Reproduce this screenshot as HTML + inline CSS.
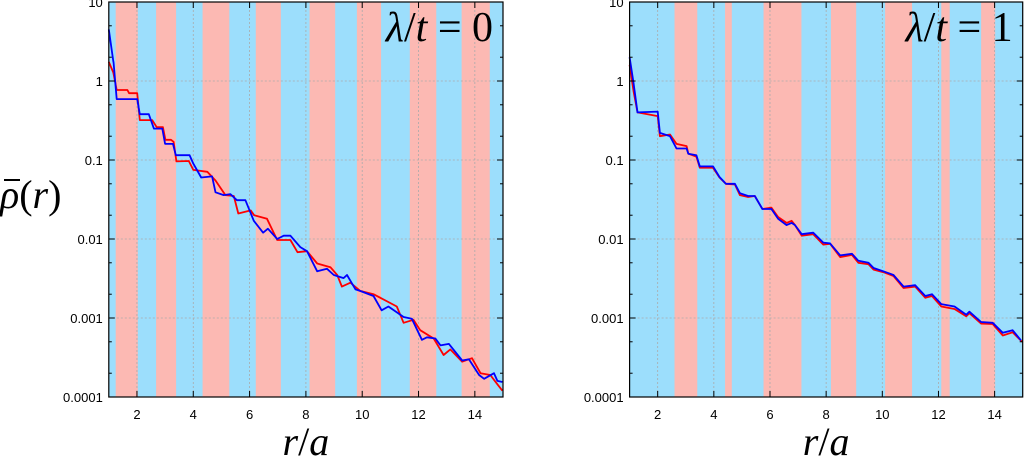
<!DOCTYPE html>
<html><head><meta charset="utf-8"><style>
html,body{margin:0;padding:0;background:#fff;width:1024px;height:465px;overflow:hidden}
svg{display:block}
text{font-family:"Liberation Sans",sans-serif}
.m{font-family:"Liberation Serif",serif}
.i{font-style:italic}
</style></head><body>
<svg id="chart" width="1024" height="465" viewBox="0 0 1024 465"></svg>
<script>
// ---- data ----
const xTicks = [2,4,6,8,10,12,14];
const yTicks = [10,1,0.1,0.01,0.001,0.0001];
const yTickLabels = ["10","1","0.1","0.01","0.001","0.0001"];
const leftBands = [[1,1.245,"b"],[1.245,2.03,"p"],[2.03,2.68,"b"],[2.68,3.39,"p"],[3.39,4.33,"b"],[4.33,5.28,"p"],[5.28,6.22,"b"],[6.22,7.11,"p"],[7.11,8.13,"b"],[8.13,9.04,"p"],[9.04,9.81,"b"],[9.81,10.67,"p"],[10.67,11.69,"b"],[11.69,12.63,"p"],[12.63,13.53,"b"],[13.53,14.53,"p"],[14.53,15,"b"]];
const rightBands = [[1,2.6,"b"],[2.6,3.41,"p"],[3.41,4.4,"b"],[4.4,4.64,"p"],[4.64,5.77,"b"],[5.77,7.12,"p"],[7.12,8.17,"b"],[8.17,9.07,"p"],[9.07,10.1,"b"],[10.1,11.06,"p"],[11.06,12.1,"b"],[12.1,12.4,"p"],[12.4,13.52,"b"],[13.52,14.02,"p"],[14.02,15,"b"]];
const leftBlueX = [1,1.16,1.17,1.28,2.01,2.1,2.42,2.48,2.6,2.9,3.0,3.28,3.38,3.87,4.0,4.28,4.67,4.79,5.08,5.32,5.55,5.85,6.15,6.48,6.65,6.98,7.21,7.45,7.8,8.04,8.4,8.75,8.99,9.34,9.46,9.76,9.92,10.4,10.69,10.93,11.47,11.76,12.12,12.3,12.6,12.78,13.08,13.55,13.79,14.15,14.33,14.68,14.8,14.98];
const leftBlueY = [4.5,1.78,1.7,0.59,0.59,0.38,0.38,0.33,0.25,0.25,0.16,0.16,0.115,0.115,0.09,0.06,0.062,0.039,0.036,0.037,0.031,0.031,0.017,0.012,0.0135,0.01,0.011,0.011,0.0079,0.007,0.0039,0.0042,0.0035,0.0032,0.0035,0.0023,0.0022,0.0019,0.00125,0.0014,0.00103,0.00098,0.00053,0.00057,0.00055,0.00045,0.00047,0.00029,0.0003,0.00019,0.00017,0.0002,0.00016,0.000155];
const leftRedX = [1,1.16,1.28,1.66,1.72,2.01,2.1,2.54,2.7,2.92,3.01,3.21,3.3,3.4,3.84,4.0,4.5,4.79,5.14,5.44,5.6,6.04,6.16,6.62,6.98,7.45,7.7,8.04,8.4,8.87,9.11,9.28,9.58,9.93,10.4,11.23,11.47,11.82,12.06,12.54,12.89,13.13,13.55,13.9,14.2,14.55,14.8,14.98];
const leftRedY = [1.75,1.28,0.77,0.77,0.7,0.7,0.32,0.32,0.26,0.26,0.18,0.18,0.17,0.096,0.097,0.075,0.071,0.055,0.036,0.035,0.021,0.023,0.02,0.018,0.0097,0.0097,0.0068,0.007,0.0049,0.0044,0.0035,0.0025,0.0028,0.0022,0.002,0.0014,0.00087,0.00095,0.0007,0.00055,0.00034,0.0004,0.00028,0.00031,0.0002,0.00019,0.000145,0.00012];
const rightBlueX = [1,1.14,1.28,2.0,2.08,2.44,2.67,3.03,3.09,3.38,3.5,3.97,4.2,4.43,4.75,4.93,5.22,5.46,5.73,6.05,6.29,6.59,6.77,6.89,7.13,7.54,7.9,8.14,8.5,8.92,9.15,9.51,9.69,10.04,10.4,10.76,11.17,11.53,11.77,12.1,12.57,12.99,13.1,13.52,13.93,14.29,14.64,14.94];
const rightBlueY = [2.0,0.95,0.4,0.41,0.22,0.2,0.14,0.14,0.12,0.115,0.083,0.083,0.061,0.05,0.05,0.038,0.035,0.035,0.024,0.024,0.018,0.015,0.016,0.015,0.0115,0.012,0.009,0.0088,0.0062,0.0065,0.0053,0.005,0.0043,0.0039,0.0035,0.0025,0.0026,0.0019,0.002,0.0015,0.0014,0.0011,0.0012,0.00089,0.00087,0.00065,0.0007,0.00052];
const rightRedX = [1,1.14,1.28,2.0,2.08,2.44,2.67,3.03,3.09,3.38,3.5,3.97,4.2,4.43,4.75,4.93,5.22,5.46,5.73,6.05,6.29,6.59,6.77,6.89,7.13,7.54,7.9,8.14,8.5,8.92,9.15,9.51,9.69,10.04,10.4,10.76,11.17,11.53,11.77,12.1,12.57,12.99,13.1,13.52,13.93,14.29,14.64,14.98];
const rightRedY = [1.6,0.75,0.4,0.36,0.2,0.21,0.16,0.15,0.12,0.11,0.08,0.08,0.06,0.05,0.049,0.036,0.034,0.035,0.024,0.025,0.019,0.016,0.017,0.015,0.011,0.0115,0.0085,0.0087,0.0059,0.0063,0.005,0.0048,0.0041,0.0038,0.0034,0.0024,0.0025,0.0018,0.0019,0.0014,0.0013,0.00105,0.00115,0.00085,0.00084,0.0006,0.00066,0.0005];

const NS="http://www.w3.org/2000/svg";
const svg=document.getElementById('chart');
function mk(tag,attrs,parent){const e=document.createElementNS(NS,tag);for(const k in attrs)e.setAttribute(k,attrs[k]);(parent||svg).appendChild(e);return e;}

function panel(x0,x1,y0,y1,bands,blueX,blueY,redX,redY,num,name){
  const g=mk('g',{});
  
  
  const sx=v=>x0+(v-1)/14*(x1-x0);
  const sy=v=>y1-(Math.log10(v)+4)/5*(y1-y0);
  bands.forEach((b,i)=>{
    const r=mk('rect',{x:sx(b[0]),y:y0,width:sx(b[1])-sx(b[0])+0.5,height:y1-y0,fill:b[2]==="b"?"#9cdefc":"#fcb9b3"},g);
    
    
  });
  yTicks.forEach(v=>{mk('line',{x1:x0,x2:x1,y1:sy(v),y2:sy(v),stroke:"#aaa","stroke-width":0.8,"stroke-dasharray":"2,2"},g);});
  xTicks.forEach(v=>{mk('line',{x1:sx(v),x2:sx(v),y1:y0,y2:y1,stroke:"#aaa","stroke-width":0.8,"stroke-dasharray":"2,2"},g);});
  const ser=(xs,ys,col,nm)=>{
    let d="";xs.forEach((x,i)=>{d+=(i?"L":"M")+sx(x).toFixed(1)+","+sy(ys[i]).toFixed(1);});
    const p=mk('path',{d:d,fill:"none",stroke:col,"stroke-width":1.8,"stroke-linejoin":"round"},g);
    
    
  };
  ser(redX,redY,"#f00",'red-series');
  ser(blueX,blueY,"#00f",'blue-series');
  mk('rect',{x:x0,y:y0,width:x1-x0,height:y1-y0,fill:"none",stroke:"#000","stroke-width":1.2},g);
  yTicks.forEach((v,i)=>{
    mk('line',{x1:x0,x2:x0+6,y1:sy(v),y2:sy(v),stroke:"#000"},g);
    mk('line',{x1:x1,x2:x1-6,y1:sy(v),y2:sy(v),stroke:"#000"},g);
    if(v<10){[2,5].forEach(m=>{const yy=sy(v*m);mk('line',{x1:x0,x2:x0+3,y1:yy,y2:yy,stroke:"#000"},g);mk('line',{x1:x1,x2:x1-3,y1:yy,y2:yy,stroke:"#000"},g);});}
    const t=mk('text',{x:x0-6,y:sy(v)+5,"text-anchor":"end","font-size":13},g);
    t.textContent=yTickLabels[i];
    
    
  });
  xTicks.forEach(v=>{
    mk('line',{x1:sx(v),x2:sx(v),y1:y1,y2:y1-6,stroke:"#000"},g);
    mk('line',{x1:sx(v),x2:sx(v),y1:y0,y2:y0+6,stroke:"#000"},g);
    const t=mk('text',{x:sx(v),y:y1+22,"text-anchor":"middle","font-size":13},g);
    t.textContent=String(v);
    
    
  });
  const tt=mk('text',{x:x1-10,y:y0+39,"text-anchor":"end","font-size":42,class:"m"},g);
  tt.innerHTML='<tspan class="i">λ</tspan>/<tspan class="i">t</tspan> = '+num;
  tt.setAttribute('xml:space','preserve');
  
  
  const xl=mk('text',{x:(x0+x1)/2,y:455,"text-anchor":"middle","font-size":40,class:"m"},g);
  xl.innerHTML='<tspan class="i">r</tspan>/<tspan class="i">a</tspan>';
  
  
}
panel(108.8,503,2,397,leftBands,leftBlueX,leftBlueY,leftRedX,leftRedY,"0","left-panel");
panel(629.6,1022.7,2,397,rightBands,rightBlueX,rightBlueY,rightRedX,rightRedY,"1","right-panel");
const yl=mk('text',{x:0,y:208,"font-size":40,class:"m"});
yl.innerHTML='<tspan class="i">ρ</tspan>(<tspan class="i">r</tspan>)';


const bar=mk('line',{x1:4,x2:20,y1:180,y2:180,stroke:"#000","stroke-width":2});


</script>
</body></html>
